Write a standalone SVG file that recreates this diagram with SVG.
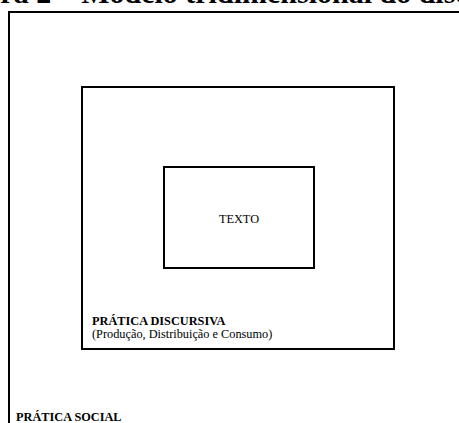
<svg xmlns="http://www.w3.org/2000/svg" width="459" height="423" viewBox="0 0 459 423">
<style>
.box{fill:none;stroke:#000;stroke-width:2}
.t{font-family:"Liberation Serif","Times New Roman",serif;fill:#000;font-size:12.3px}
.b{font-weight:bold}
</style>
<rect width="459" height="423" fill="#fff"/>
<text class="t b" x="-58" y="3" style="font-size:30px">Figura 2 – Modelo tridimensional do discurso</text>
<g id="pratica-social">
<rect class="box" x="9" y="12" width="470" height="430"/>
<text class="t b" x="16" y="421">PRÁTICA SOCIAL</text>
</g>
<g id="pratica-discursiva">
<rect class="box" x="82" y="87" width="312" height="262"/>
<text class="t b" x="92" y="325">PRÁTICA DISCURSIVA</text>
<text class="t" x="92" y="338">(Produção, Distribuição e Consumo)</text>
</g>
<g id="texto">
<rect class="box" x="164" y="167" width="150" height="101"/>
<text class="t" x="239" y="223" text-anchor="middle">TEXTO</text>
</g>
<g id="connectors"/>
</svg>
